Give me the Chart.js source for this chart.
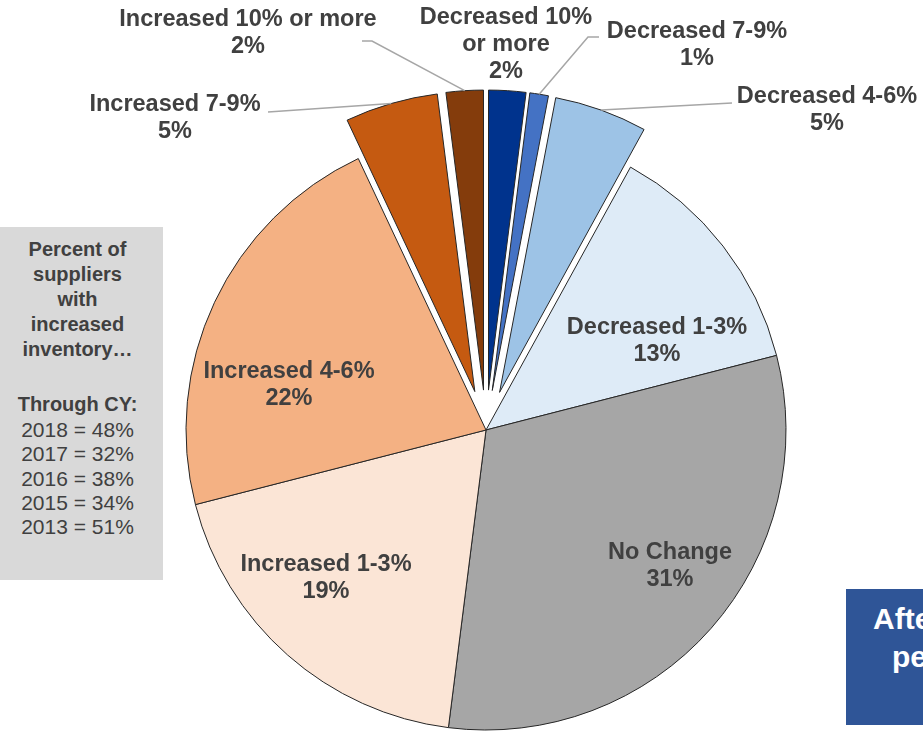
<!DOCTYPE html>
<html>
<head>
<meta charset="utf-8">
<script src="https://cdn.jsdelivr.net/npm/chart.js@4.4.1/dist/chart.umd.min.js"></script>
<style>
  html, body { margin: 0; padding: 0; background: #fff; overflow: hidden; }
  body { width: 923px; height: 732px; position: relative; font-family: "Liberation Sans", Arial, sans-serif; }
  #chart { position: absolute; left: 0; top: 0; }
  .note {
    position: absolute; left: 0; top: 227px; width: 155px; height: 353px;
    padding-right: 8px; background: #D9D9D9; color: #404040;
    text-align: center; font-size: 20px;
  }
  .note .head { font-weight: bold; line-height: 25px; margin-top: 10px; }
  .note .cy { font-weight: bold; line-height: 25px; margin-top: 30px; }
  .note .years { font-size: 21px; line-height: 24.3px; margin-top: 1px; }
  .callout {
    position: absolute; left: 846px; top: 589px; width: 320px; height: 136px;
    background: #2F5597; color: #fff; font-weight: bold; font-size: 30px;
  }
  .callout span { position: absolute; white-space: nowrap; line-height: 36px; }
</style>
</head>
<body>
<canvas id="chart" width="923" height="732"></canvas>
<div class="note">
  <div class="head">Percent of<br>suppliers<br>with<br>increased<br>inventory…</div>
  <div class="cy">Through CY:</div>
  <div class="years">2018 = 48%<br>2017 = 32%<br>2016 = 38%<br>2015 = 34%<br>2013 = 51%</div>
</div>
<div class="callout">
  <span style="left:27px; top:12px;">After</span>
  <span style="left:46px; top:50px;">percent</span>
</div>
<script>
// Dados do gráfico (sentido horário a partir do topo)
const categories = ['Decreased 10% or more', 'Decreased 7-9%', 'Decreased 4-6%', 'Decreased 1-3%',
                    'No Change', 'Increased 1-3%', 'Increased 4-6%', 'Increased 7-9%', 'Increased 10% or more'];
const values = [2, 1, 5, 13, 31, 19, 22, 5, 2];

// Texto dos rótulos (quebras de linha como no original)
const labelText = [
    ['Decreased 10%', 'or more'], ['Decreased 7-9%'], ['Decreased 4-6%'], ['Decreased 1-3%'],
    ['No Change'], ['Increased 1-3%'], ['Increased 4-6%'], ['Increased 7-9%'], ['Increased 10% or more']
];

// Estilo
const colors = ['#00338D', '#4472C4', '#9DC3E6', '#DEEBF7', '#A6A6A6', '#FBE5D6', '#F4B183', '#C55A11', '#843C0C'];
const explode = [40, 40, 40, 0, 0, 0, 0, 40, 40]; // deslocamento da fatia em px (estilo Excel)
const labelPos = [[506, 18], [697, 32], [827, 97], [657, 328], [670, 553], [326, 565], [289, 372], [175, 105], [248, 20]];
const leaderFrom = [null, [[599, 37], [588, 37]], [[732, 103]], null, null, null, null, [[268, 112]], [[362, 41], [372, 41]]];

// O ArcElement translada offset/4, aumenta o raio em offset/4 * fix e encurta o arco;
// usamos offset = 4 * px e compensamos raio e ângulo para a fatia só se deslocar.
const offsets = explode.map(d => d * 4);
const arcFix = (arc) => 1 - Math.sin(Math.min(Math.PI, arc.circumference || 0));

const explodeFix = {
    id: 'explodeFix',
    afterDatasetsUpdate: (chart) => {
        chart.getDatasetMeta(0).data.forEach((arc, i) => {
            if (!explode[i]) return;
            const d = explode[i] * arcFix(arc);
            const da = d / (Math.PI * arc.outerRadius) / 2;
            arc.outerRadius = arc.outerRadius - d;
            arc.startAngle -= da;
            arc.endAngle += da;
        });
    }
};

const sliceLabels = {
    id: 'sliceLabels',
    afterDatasetsDraw: (chart) => {
        const ctx = chart.ctx;
        const arcs = chart.getDatasetMeta(0).data;
        ctx.save();

        // linhas de chamada até o meio do arco externo
        ctx.strokeStyle = '#A6A6A6';
        ctx.lineWidth = 1.5;
        leaderFrom.forEach((pts, i) => {
            if (!pts) return;
            const arc = arcs[i];
            const p = arc.getProps(['x', 'y', 'startAngle', 'endAngle', 'outerRadius'], true);
            const mid = (p.startAngle + p.endAngle) / 2;
            const r = p.outerRadius + explode[i] * arcFix(arc) + explode[i];
            ctx.beginPath();
            ctx.moveTo(pts[0][0], pts[0][1]);
            pts.slice(1).forEach(pt => ctx.lineTo(pt[0], pt[1]));
            ctx.lineTo(p.x + Math.cos(mid) * r, p.y + Math.sin(mid) * r);
            ctx.stroke();
        });

        // rótulos
        ctx.fillStyle = '#404040';
        ctx.font = 'bold 23.5px "Liberation Sans", Arial, sans-serif';
        ctx.textAlign = 'center';
        ctx.textBaseline = 'middle';
        values.forEach((v, i) => {
            const lines = labelText[i].concat([v + '%']);
            lines.forEach((txt, k) => {
                ctx.fillText(txt, labelPos[i][0], labelPos[i][1] + k * 27);
            });
        });
        ctx.restore();
    }
};

new Chart(document.getElementById('chart'), {
    type: 'pie',
    data: {
        labels: categories,
        datasets: [{
            data: values,
            backgroundColor: colors,
            borderColor: '#262626',
            borderWidth: 1,
            offset: offsets,
            clip: false
        }]
    },
    options: {
        responsive: false,
        animation: false,
        radius: 300,
        layout: { padding: { left: 49, top: 128, right: 0, bottom: 0 } },
        plugins: {
            legend: { display: false },
            tooltip: { enabled: false }
        }
    },
    plugins: [explodeFix, sliceLabels]
});
</script>
</body>
</html>
